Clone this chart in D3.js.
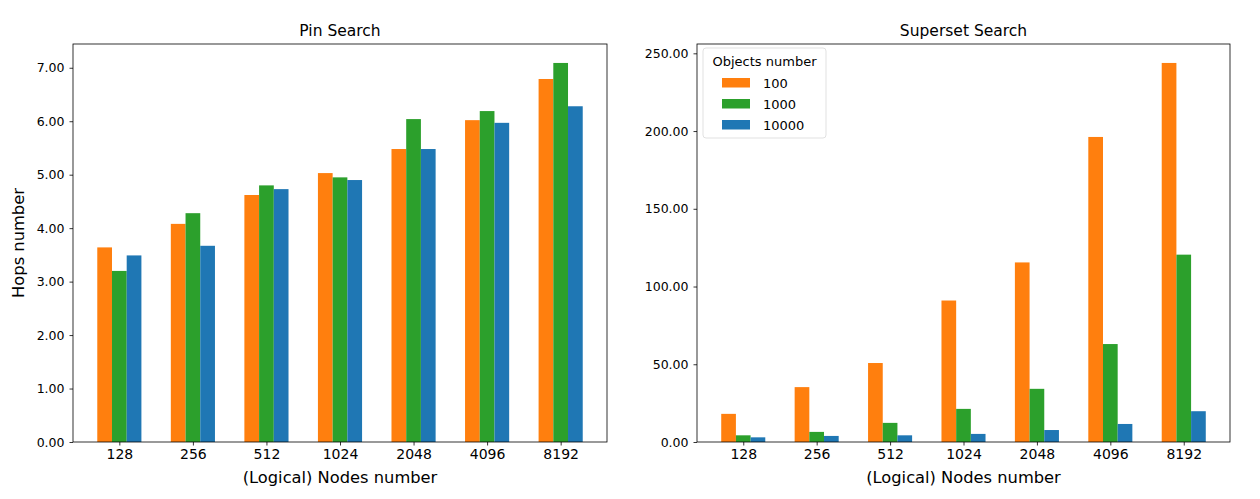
<!doctype html>
<html>
<head>
<style>
  body { margin: 0; background: #fff; }
  text { font-family: "DejaVu Sans", sans-serif; fill: #000; }
  .tick text { font-size: 12.5px; }
  .xa .tick text { font-size: 14px; }
</style>
<script src="https://d3js.org/d3.v7.min.js"></script>
</head>
<body>
<svg id="chart" width="1260" height="499"></svg>
<script>

var nodes = ["128", "256", "512", "1024", "2048", "4096", "8192"];
var series = ["100", "1000", "10000"];
var colors = ["#ff7f0e", "#2ca02c", "#1f77b4"];

// Pin Search hops, one array per objects number
var pin100 = [3.64, 4.08, 4.62, 5.03, 5.48, 6.02, 6.79];
var pin1000 = [3.20, 4.28, 4.80, 4.95, 6.04, 6.19, 7.09];
var pin10000 = [3.49, 3.67, 4.73, 4.90, 5.48, 5.97, 6.28];

// Superset Search hops
var sup100 = [18.1, 35.3, 50.8, 91.0, 115.5, 196.2, 243.8];
var sup1000 = [4.3, 6.5, 12.3, 21.3, 34.2, 63.0, 120.5];
var sup10000 = [3.0, 3.9, 4.3, 5.2, 7.7, 11.6, 19.8];

var pinTicks = [0, 1, 2, 3, 4, 5, 6, 7];
var supTicks = [0, 50, 100, 150, 200, 250];

var svg = d3.select("#chart");

function panel(left, right, title, data, ticks, ylabel, legend) {
  var top = 44, bottom = 442;
  var g = svg.append("g");

  var ymax = d3.max(data, function(s){ return d3.max(s); }) * 1.05;
  var y = d3.scaleLinear().domain([0, ymax]).range([bottom, top]);

  // matplotlib-like x: bars at i-0.2, i, i+0.2, width 0.2, margins 5%
  var lo = -0.3, hi = nodes.length - 1 + 0.3, m = (hi - lo) * 0.05;
  var x = d3.scaleLinear().domain([lo - m, hi + m]).range([left, right]);
  var bw = x(0.2) - x(0);

  data.forEach(function(vals, si) {
    g.selectAll(null)
      .data(vals)
      .enter().append("rect")
        .attr("x", function(d, i){ return x(i + (si - 1) * 0.2 - 0.1); })
        .attr("y", function(d){ return y(d); })
        .attr("width", bw)
        .attr("height", function(d){ return bottom - y(d); })
        .attr("fill", colors[si]);
  });

  var xa = g.append("g").attr("class", "xa")
    .attr("transform", "translate(0," + bottom + ")")
    .call(d3.axisBottom(x).tickValues(d3.range(nodes.length))
      .tickFormat(function(d){ return nodes[d]; }).tickSizeOuter(0).tickSize(3.5).tickPadding(4));

  var ya = g.append("g")
    .attr("transform", "translate(" + left + ",0)")
    .call(d3.axisLeft(y).tickValues(ticks).tickFormat(d3.format(".2f"))
      .tickSizeOuter(0).tickSize(3.5).tickPadding(5));

  [xa, ya].forEach(function(a){
    a.select(".domain").remove();
    a.selectAll("line").attr("stroke", "#000").attr("stroke-width", 0.8);
  });

  g.append("rect")
    .attr("x", left).attr("y", top)
    .attr("width", right - left).attr("height", bottom - top)
    .attr("fill", "none").attr("stroke", "#000").attr("stroke-width", 0.8);

  g.append("text")
    .attr("x", (left + right) / 2).attr("y", 36)
    .attr("text-anchor", "middle").style("font-size", "15.5px")
    .text(title);

  g.append("text")
    .attr("x", (left + right) / 2).attr("y", 483)
    .attr("text-anchor", "middle").style("font-size", "16.3px")
    .text("(Logical) Nodes number");

  if (ylabel) {
    g.append("text")
      .attr("transform", "translate(24," + (top + bottom) / 2 + ") rotate(-90)")
      .attr("text-anchor", "middle").style("font-size", "16.3px")
      .text(ylabel);
  }

  if (legend) {
    var lg = g.append("g").attr("transform", "translate(" + (left + 6) + "," + (top + 4) + ")");
    lg.append("rect")
      .attr("width", 123).attr("height", 90).attr("rx", 3)
      .attr("fill", "#fff").attr("fill-opacity", 0.8)
      .attr("stroke", "#d9d9d9").attr("stroke-width", 0.8);
    lg.append("text")
      .attr("x", 61.5).attr("y", 17.5)
      .attr("text-anchor", "middle").style("font-size", "13px")
      .text("Objects number");
    series.forEach(function(s, i) {
      lg.append("rect")
        .attr("x", 19).attr("y", 30 + i * 21)
        .attr("width", 28).attr("height", 9.5)
        .attr("fill", colors[i]);
      lg.append("text")
        .attr("x", 60).attr("y", 39.5 + i * 21)
        .style("font-size", "13px")
        .text(s);
    });
  }
}

panel(73, 607, "Pin Search", [pin100, pin1000, pin10000], pinTicks, "Hops number", false);
panel(697, 1230, "Superset Search", [sup100, sup1000, sup10000], supTicks, null, true);

</script>
</body>
</html>
